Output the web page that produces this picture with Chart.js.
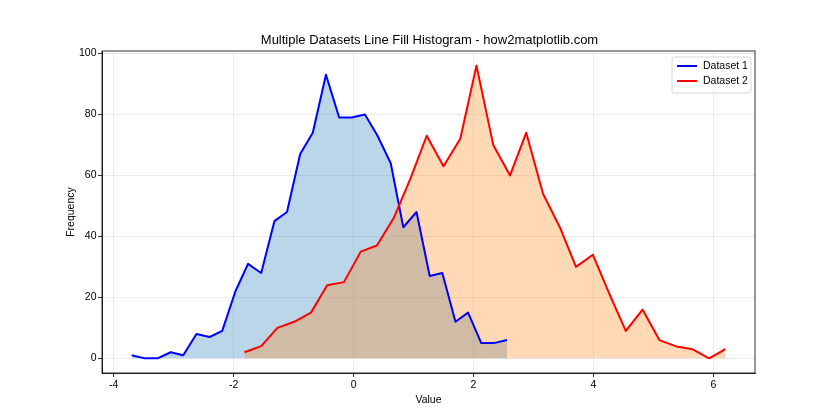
<!DOCTYPE html>
<html>
<head>
<meta charset="utf-8">
<script src="https://cdn.jsdelivr.net/npm/chart.js@4.4.1/dist/chart.umd.min.js"></script>
<style>
  html, body { margin: 0; padding: 0; background: #ffffff; }
  #wrap { width: 840px; height: 420px; }
</style>
</head>
<body>
<div id="wrap"><canvas id="c" width="840" height="420"></canvas></div>
<script>
const chartTitle = "Multiple Datasets Line Fill Histogram - how2matplotlib.com";
const xAxisTitle = "Value";
const yAxisTitle = "Frequency";
const seriesNames = ["Dataset 1", "Dataset 2"];

const dataset1X = [-3.70, -3.48, -3.27, -3.05, -2.84, -2.62, -2.40, -2.19, -1.97, -1.76,
                   -1.54, -1.32, -1.11, -0.89, -0.68, -0.46, -0.24, -0.03, 0.19, 0.40,
                   0.62, 0.83, 1.05, 1.27, 1.48, 1.70, 1.91, 2.13, 2.34, 2.56];
const dataset1Y = [1, 0, 0, 2, 1, 8, 7, 9, 22, 31,
                   28, 45, 48, 67, 74, 93, 79, 79, 80, 73,
                   64, 43, 48, 27, 28, 12, 15, 5, 5, 6];

const dataset2X = [-1.82, -1.54, -1.27, -0.99, -0.71, -0.44, -0.16, 0.12, 0.39, 0.67,
                   0.95, 1.22, 1.50, 1.78, 2.05, 2.33, 2.61, 2.88, 3.16, 3.44,
                   3.71, 3.99, 4.27, 4.54, 4.82, 5.10, 5.37, 5.65, 5.93, 6.20];
const dataset2Y = [2, 4, 10, 12, 15, 24, 25, 35, 37, 46,
                   59, 73, 63, 72, 96, 70, 60, 74, 54, 43,
                   30, 34, 21, 9, 16, 6, 4, 3, 0, 3];

const xTicks = [-4, -2, 0, 2, 4, 6];
const yTicks = [0, 20, 40, 60, 80, 100];

const FONT = "'Liberation Sans', Arial, sans-serif";

function toPoints(xs, ys) { return xs.map((x, i) => ({ x: x, y: ys[i] })); }

const framePlugin = {
  id: 'frameAndLegend',
  afterDraw(chart) {
    const ctx = chart.ctx;
    const a = chart.chartArea;
    ctx.save();
    ctx.strokeStyle = '#000000';
    ctx.lineWidth = 0.8;
    ctx.strokeRect(a.left, a.top, a.right - a.left, a.bottom - a.top);

    // title centred over the axes
    ctx.fillStyle = '#000000';
    ctx.font = '13px ' + FONT;
    ctx.textAlign = 'center';
    ctx.textBaseline = 'middle';
    ctx.fillText(chartTitle, (a.left + a.right) / 2 + 1, 40);

    // legend (upper right, inside axes)
    const bx = a.right - 83, by = a.top + 6, bw = 79, bh = 36;
    ctx.beginPath();
    const r = 2.5;
    ctx.moveTo(bx + r, by);
    ctx.lineTo(bx + bw - r, by); ctx.quadraticCurveTo(bx + bw, by, bx + bw, by + r);
    ctx.lineTo(bx + bw, by + bh - r); ctx.quadraticCurveTo(bx + bw, by + bh, bx + bw - r, by + bh);
    ctx.lineTo(bx + r, by + bh); ctx.quadraticCurveTo(bx, by + bh, bx, by + bh - r);
    ctx.lineTo(bx, by + r); ctx.quadraticCurveTo(bx, by, bx + r, by);
    ctx.closePath();
    ctx.fillStyle = 'rgba(255,255,255,0.8)';
    ctx.fill();
    ctx.strokeStyle = '#d6d6d6';
    ctx.lineWidth = 1;
    ctx.stroke();

    ctx.font = '10.5px ' + FONT;
    ctx.textBaseline = 'middle';
    ctx.textAlign = 'left';
    chart.data.datasets.forEach((ds, i) => {
      const ly = by + 9 + i * 15;
      ctx.strokeStyle = ds.borderColor;
      ctx.lineWidth = 2;
      ctx.beginPath();
      ctx.moveTo(bx + 5, ly);
      ctx.lineTo(bx + 25, ly);
      ctx.stroke();
      ctx.fillStyle = '#000000';
      ctx.fillText(ds.label, bx + 31, ly + 0.5);
    });
    ctx.restore();
  }
};

new Chart(document.getElementById('c'), {
  type: 'line',
  data: {
    datasets: [
      {
        label: seriesNames[0],
        data: toPoints(dataset1X, dataset1Y),
        borderColor: '#0000ff',
        backgroundColor: 'rgba(31,119,180,0.3)',
        borderWidth: 2,
        pointRadius: 0,
        tension: 0,
        fill: 'origin',
        borderJoinStyle: 'round',
        order: 1
      },
      {
        label: seriesNames[1],
        data: toPoints(dataset2X, dataset2Y),
        borderColor: '#ff0000',
        backgroundColor: 'rgba(255,127,14,0.3)',
        borderWidth: 2,
        pointRadius: 0,
        tension: 0,
        fill: 'origin',
        borderJoinStyle: 'round',
        order: 0
      }
    ]
  },
  options: {
    responsive: false,
    animation: false,
    layout: { padding: { left: 0, right: 85, top: 51, bottom: 0 } },
    plugins: {
      legend: { display: false },
      tooltip: { enabled: false },
      filler: { drawTime: 'beforeDatasetsDraw' },
      title: { display: false }
    },
    scales: {
      x: {
        type: 'linear',
        min: -4.195,
        max: 6.695,
        afterBuildTicks(scale) { scale.ticks = xTicks.map(v => ({ value: v })); },
        afterFit(scale) { scale.height = 47; },
        ticks: {
          color: '#000000',
          font: { family: FONT, size: 10.5 },
          padding: 2,
          maxRotation: 0
        },
        grid: {
          color: 'rgba(176,176,176,0.3)',
          lineWidth: 0.8,
          tickColor: '#000000',
          tickLength: 4,
          tickWidth: 0.8
        },
        border: { display: true, color: '#000000', width: 0.8 },
        title: {
          display: true,
          text: xAxisTitle,
          color: '#000000',
          font: { family: FONT, size: 10.5, lineHeight: 1.2 },
          padding: { top: 0, bottom: 13.5 }
        }
      },
      y: {
        type: 'linear',
        min: -4.8,
        max: 100.8,
        afterBuildTicks(scale) { scale.ticks = yTicks.map(v => ({ value: v })); },
        afterFit(scale) { scale.width = 102; },
        ticks: {
          color: '#000000',
          font: { family: FONT, size: 10.5 },
          padding: 1.5
        },
        grid: {
          color: 'rgba(176,176,176,0.3)',
          lineWidth: 0.8,
          tickColor: '#000000',
          tickLength: 4,
          tickWidth: 0.8
        },
        border: { display: true, color: '#000000', width: 0.8 },
        title: {
          display: true,
          text: yAxisTitle,
          color: '#000000',
          font: { family: FONT, size: 10.5, lineHeight: 1.2 },
          padding: { top: 65, bottom: 0 }
        }
      }
    }
  },
  plugins: [framePlugin]
});
</script>
</body>
</html>
